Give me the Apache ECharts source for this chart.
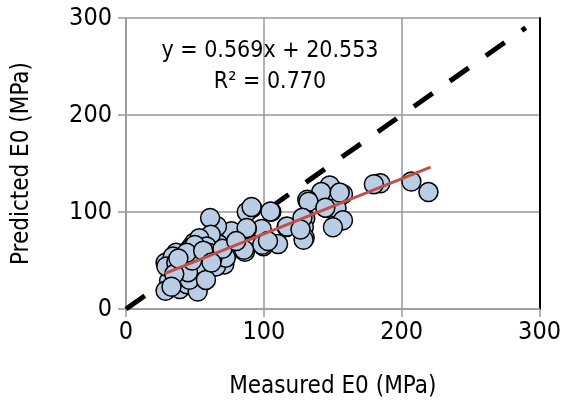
<!DOCTYPE html>
<html>
<head>
<meta charset="utf-8">
<script src="https://cdn.jsdelivr.net/npm/echarts@6/dist/echarts.min.js"></script>
<style>
  html, body { margin: 0; padding: 0; background: #fff; }
  #main { width: 564px; height: 408px; }
</style>
</head>
<body>
<div id="main"></div>
<script>
// measured vs predicted E0 (MPa)
var points = [
  [219.4,120.5],[207,131.4],[184.5,129.7],[179.8,128.7],[157.4,118.4],[147.8,127.3],
  [141.6,120.5],[131.5,112.6],[145.5,104],[152.7,104],[157.4,91.5],[150.1,84.3],
  [130,93.2],[129,84.3],[129.6,73.4],[116.5,84.6],[110.3,66.9],[105.4,100.3],
  [99.7,64.8],[98.4,82.6],[91.5,104.1],[87.6,100],[87.6,82.6],[86.3,59],
  [76.5,80.2],[73.9,58],[66,85.3],[61,93.9],[67.4,66.5],[64.9,54.6],
  [71.3,46],[49.4,68.3],[46.8,63.1],[51.9,47.8],[50.6,35.8],[49.4,23.9],
  [36.4,58],[33.9,46],[28.7,47.8],[31.3,29],[28.7,18.8],[39,20.5],
  [44.2,25.6],[59.7,44.4],[62.3,63.1],[75.2,63.1],[132.4,110.6],[128.8,71.4],
  [98.8,66.3],[85.6,61],[68.8,57.7],[61.5,76.6],[53.2,73],[46,61],
  [34,54.2],[29.3,43.9],[52,18.1],[53.2,37],[65.3,43.9],[72.4,52.9],
  [62.8,52.9],[43.7,43.9],[38.8,33.6],[46,30.2],[36.5,47.7],[55,54.2],
  [58.5,64.5],[87.5,83.5],[116.8,85.1],[104.8,100.6],[91.1,105.2],
  [144.6,104.5],[128,94],[126.6,82],[155,120],[40,40],[42,52],[56,45],
  [58,30],[45,38],[35,36],[33,23],[48,50],[60,58],[70,62],[80,70],[103,70],
  [50,66],[44,58],[38,52],[56,60],[62,48]
];

// 1:1 line and fitted trend line
var oneToOneX = [0, 290];
var fitX = [28, 221];
var slope = 0.569, intercept = 20.553;

var axisTicks = [0, 100, 200, 300];

var fontName = "'DejaVu Sans Condensed', 'Liberation Sans Narrow', sans-serif";

var fitLine = fitX.map(function (x) { return [x, slope * x + intercept]; });
var diagLine = oneToOneX.map(function (x) { return [x, x]; });

var myChart = echarts.init(document.getElementById('main'));

var option = {
    animation: false,
    grid: { left: 126, right: 21, top: 18, bottom: 99 },
    xAxis: {
        type: 'value',
        min: axisTicks[0],
        max: axisTicks[axisTicks.length - 1],
        interval: 100,
        name: 'Measured E0 (MPa)',
        nameLocation: 'middle',
        nameGap: 66,
        nameTextStyle: { fontFamily: fontName, fontSize: 24, color: '#000' },
        axisLine: { show: true, lineStyle: { color: '#999', width: 1.5 } },
        axisTick: { show: true, length: 8, lineStyle: { color: '#999', width: 1.5 } },
        axisLabel: { fontFamily: fontName, fontSize: 25, color: '#000', margin: 11 },
        splitLine: { show: true, lineStyle: { color: '#999', width: 1.5 } }
    },
    yAxis: [{
        type: 'value',
        min: axisTicks[0],
        max: axisTicks[axisTicks.length - 1],
        interval: 100,
        name: 'Predicted E0 (MPa)',
        nameLocation: 'middle',
        nameGap: 92,
        nameTextStyle: { fontFamily: fontName, fontSize: 24, color: '#000' },
        axisLine: { show: true, lineStyle: { color: '#999', width: 1.5 } },
        axisTick: { show: true, length: 8, lineStyle: { color: '#999', width: 1.5 } },
        axisLabel: { fontFamily: fontName, fontSize: 25, color: '#000', margin: 14 },
        splitLine: { show: true, lineStyle: { color: '#999', width: 1.5 } }
    }, {
        // right frame of the plot area
        type: 'value',
        position: 'right',
        min: axisTicks[0],
        max: axisTicks[axisTicks.length - 1],
        axisLine: { show: true, lineStyle: { color: '#000', width: 2 } },
        axisTick: { show: false },
        axisLabel: { show: false },
        splitLine: { show: false }
    }],
    graphic: [{
        type: 'text',
        x: 270,
        y: 36,
        style: {
            text: 'y = 0.569x + 20.553\nR² = 0.770',
            fontFamily: fontName,
            fontSize: 23,
            lineHeight: 31,
            fill: '#000',
            align: 'center'
        },
        z: 10
    }],
    series: [{
        type: 'line',
        data: diagLine,
        symbol: 'none',
        lineStyle: { color: '#000', width: 5, type: [23, 21], cap: 'butt' },
        z: 3
    }, {
        type: 'scatter',
        data: points,
        symbolSize: 19,
        itemStyle: { color: '#b9cde5', borderColor: '#000', borderWidth: 1.5, opacity: 1 },
        z: 4
    }, {
        type: 'line',
        data: fitLine,
        symbol: 'none',
        lineStyle: { color: '#c0504d', width: 3 },
        z: 5
    }]
};

myChart.setOption(option);
</script>
</body>
</html>
